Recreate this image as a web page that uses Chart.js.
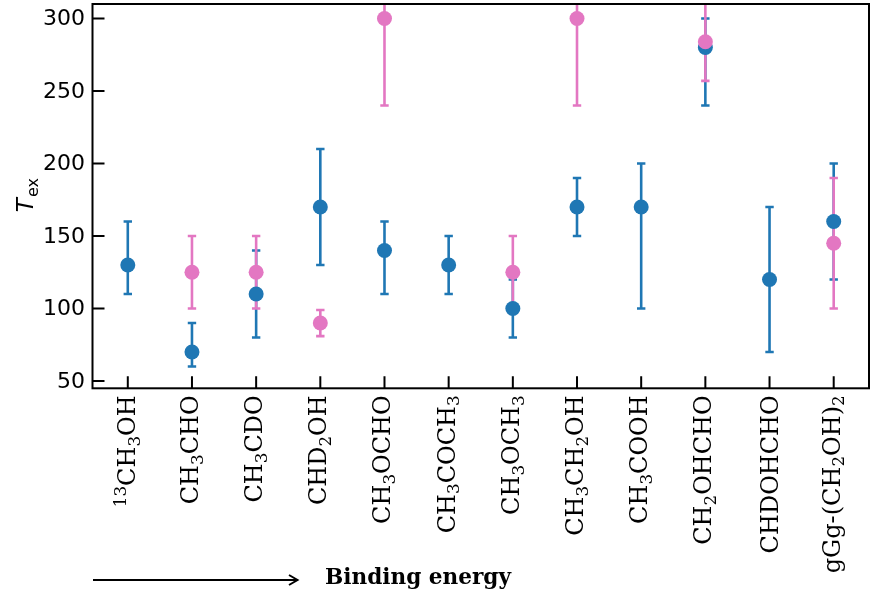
<!DOCTYPE html>
<html lang="en">
<head>
  <meta charset="UTF-8">
  <title>Tex vs binding energy</title>
  <script src="https://cdn.jsdelivr.net/npm/chart.js@4.4.1/dist/chart.umd.min.js"></script>
  <style>
    * { margin: 0; padding: 0; box-sizing: border-box; }
    body { background: #fff; width: 891px; height: 591px; overflow: hidden; }
    #wrap { position: relative; width: 891px; height: 591px; }
  </style>
</head>
<body>
  <div id="wrap"><canvas id="chart" width="891" height="591"></canvas></div>

  <script>
    // molecule labels, ^{..} = superscript, _x = subscript
    const categories = ['^{13}CH_3OH', 'CH_3CHO', 'CH_3CDO', 'CHD_2OH', 'CH_3OCHO', 'CH_3COCH_3',
      'CH_3OCH_3', 'CH_3CH_2OH', 'CH_3COOH', 'CH_2OHCHO', 'CHDOHCHO', 'gGg-(CH_2OH)_2'];
    const yTicks = [50, 100, 150, 200, 250, 300];

    // blue series
    const blueVals = [130, 70, 110, 170, 140, 130, 100, 170, 170, 280, 120, 160];
    const blueLo   = [110, 60,  80, 130, 110, 110,  80, 150, 100, 240,  70, 120];
    const blueHi   = [160, 90, 140, 210, 160, 150, 120, 190, 200, 300, 170, 200];

    // pink series (null = no value)
    const pinkVals = [null, 125, 125, 90, 300, null, 125, 300, null, 284, null, 145];
    const pinkLo   = [null, 100, 100, 81, 240, null, 100, 240, null, 257, null, 100];
    const pinkHi   = [null, 150, 150, 99, 360, null, 150, 360, null, 360, null, 190];

    const BLUE = '#1f77b4';
    const PINK = '#e377c2';
    const SERIF = '"DejaVu Serif", serif';
    const SANS = '"DejaVu Sans", sans-serif';

    function toPoints(vals) {
      const pts = [];
      vals.forEach((v, i) => { if (v !== null) pts.push({ x: i, y: v }); });
      return pts;
    }

    function parseLabel(s) {
      const segs = [];
      let i = 0;
      while (i < s.length) {
        if (s[i] === '^' && s[i + 1] === '{') {
          const end = s.indexOf('}', i);
          segs.push({ t: s.slice(i + 2, end), k: 'sup' });
          i = end + 1;
        } else if (s[i] === '_') {
          segs.push({ t: s[i + 1], k: 'sub' });
          i += 2;
        } else {
          let j = i;
          while (j < s.length && s[j] !== '^' && s[j] !== '_') j++;
          segs.push({ t: s.slice(i, j), k: 'n' });
          i = j;
        }
      }
      return segs;
    }

    function drawRich(ctx, label, cx, topY, size) {
      const segs = parseLabel(label);
      const small = size * 0.7;
      let w = 0;
      segs.forEach(sg => {
        ctx.font = (sg.k === 'n' ? size : small) + 'px ' + SERIF;
        sg.w = ctx.measureText(sg.t).width;
        w += sg.w;
      });
      const hasSub = segs.some(sg => sg.k === 'sub');
      const hasSup = segs.some(sg => sg.k === 'sup');
      // box extents relative to baseline (down = +)
      const top = hasSup ? -0.85 * size : -0.73 * size;
      const bot = hasSub ? 0.22 * size + 0.02 * size : (label.indexOf('g') >= 0 ? 0.23 * size : 0);
      const base = -(top + bot) / 2;
      ctx.save();
      ctx.translate(cx, topY);
      ctx.rotate(-Math.PI / 2);
      ctx.fillStyle = '#000';
      ctx.textBaseline = 'alphabetic';
      ctx.textAlign = 'left';
      let x = -w;
      segs.forEach(sg => {
        ctx.font = (sg.k === 'n' ? size : small) + 'px ' + SERIF;
        let dy = 0;
        if (sg.k === 'sub') dy = 0.2 * size;
        if (sg.k === 'sup') dy = -0.36 * size;
        ctx.fillText(sg.t, x, base + dy);
        x += sg.w;
      });
      ctx.restore();
    }

    const errorBars = {
      id: 'errorBars',
      beforeDatasetsDraw(chart) {
        const { ctx, chartArea: a, scales: { x, y } } = chart;
        ctx.save();
        ctx.beginPath();
        ctx.rect(a.left, a.top, a.right - a.left, a.bottom - a.top);
        ctx.clip();
        const series = [[blueVals, blueLo, blueHi, BLUE], [pinkVals, pinkLo, pinkHi, PINK]];
        series.forEach(([vals, lo, hi, col]) => {
          ctx.strokeStyle = col;
          ctx.lineWidth = 2.6;
          vals.forEach((v, i) => {
            if (v === null) return;
            const px = x.getPixelForValue(i);
            const p1 = y.getPixelForValue(lo[i]);
            const p2 = y.getPixelForValue(hi[i]);
            ctx.beginPath();
            ctx.moveTo(px, p1); ctx.lineTo(px, p2);
            ctx.moveTo(px - 4.2, p1); ctx.lineTo(px + 4.2, p1);
            ctx.moveTo(px - 4.2, p2); ctx.lineTo(px + 4.2, p2);
            ctx.stroke();
          });
        });
        ctx.restore();
      },
      afterDraw(chart) {
        const { ctx, chartArea: a, scales: { x, y } } = chart;
        ctx.save();
        ctx.strokeStyle = '#000';
        ctx.lineWidth = 2;
        ctx.strokeRect(a.left, a.top, a.right - a.left, a.bottom - a.top);

        // inward ticks
        ctx.beginPath();
        yTicks.forEach(v => {
          const py = y.getPixelForValue(v);
          ctx.moveTo(a.left, py); ctx.lineTo(a.left + 12, py);
        });
        categories.forEach((c, i) => {
          const px = x.getPixelForValue(i);
          ctx.moveTo(px, a.bottom); ctx.lineTo(px, a.bottom - 12);
        });
        ctx.stroke();

        // y tick labels
        ctx.fillStyle = '#000';
        ctx.font = '22px ' + SANS;
        ctx.textAlign = 'right';
        ctx.textBaseline = 'middle';
        yTicks.forEach(v => ctx.fillText(String(v), a.left - 7.5, y.getPixelForValue(v) + 1));

        // x tick labels
        categories.forEach((c, i) => drawRich(ctx, c, x.getPixelForValue(i), a.bottom + 7, 24));

        // y axis title T_ex
        ctx.save();
        ctx.translate(33, (a.top + a.bottom) / 2 + 16);
        ctx.rotate(-Math.PI / 2);
        ctx.textAlign = 'left';
        ctx.textBaseline = 'alphabetic';
        ctx.font = 'italic 23px ' + SANS;
        const tw = ctx.measureText('T').width;
        ctx.fillText('T', 0, 0);
        ctx.font = '16px ' + SANS;
        ctx.fillText('ex', tw + 1, 4.5);
        ctx.restore();

        // binding energy arrow + text
        ctx.lineWidth = 2;
        ctx.beginPath();
        ctx.moveTo(93, 580); ctx.lineTo(297, 580);
        ctx.moveTo(289, 575); ctx.lineTo(297.5, 580); ctx.lineTo(289, 585);
        ctx.stroke();
        ctx.font = 'bold 21.6px ' + SERIF;
        ctx.textAlign = 'left';
        ctx.textBaseline = 'alphabetic';
        ctx.fillText('Binding energy', 325, 584);
        ctx.restore();
      }
    };

    new Chart(document.getElementById('chart'), {
      type: 'scatter',
      data: {
        datasets: [
          { label: 'pink', data: toPoints(pinkVals), backgroundColor: PINK, borderWidth: 0, pointRadius: 7.5 },
          { label: 'blue', data: toPoints(blueVals), backgroundColor: BLUE, borderWidth: 0, pointRadius: 7.5 }
        ]
      },
      options: {
        responsive: false,
        animation: false,
        events: [],
        layout: { autoPadding: false, padding: { top: 4, right: 22, left: 0, bottom: 0 } },
        plugins: { legend: { display: false }, tooltip: { enabled: false } },
        scales: {
          x: {
            type: 'linear', min: -0.55, max: 11.55,
            grid: { display: false }, border: { display: false },
            ticks: { display: false },
            afterBuildTicks: s => { s.ticks = categories.map((c, i) => ({ value: i })); },
            afterFit: s => { s.height = 202.7; }
          },
          y: {
            min: 45, max: 310,
            grid: { display: false }, border: { display: false },
            ticks: { display: false },
            afterBuildTicks: s => { s.ticks = yTicks.map(v => ({ value: v })); },
            afterFit: s => { s.width = 92.5; }
          }
        }
      },
      plugins: [errorBars]
    });
  </script>
</body>
</html>
